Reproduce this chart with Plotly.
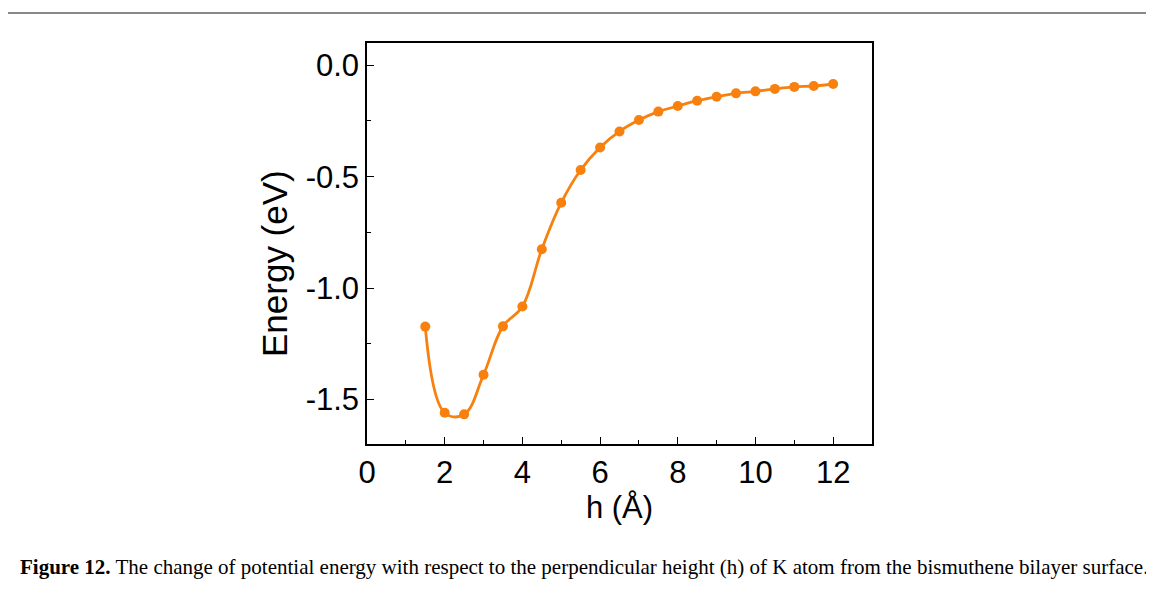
import plotly.graph_objs as go

# Datos
h_vals = [1.5, 2.0, 2.5, 3.0, 3.5, 4.0, 4.5, 5.0, 5.5, 6.0, 6.5, 7.0,
          7.5, 8.0, 8.5, 9.0, 9.5, 10.0, 10.5, 11.0, 11.5, 12.0]
energia = [-1.173, -1.560, -1.567, -1.389, -1.172, -1.083, -0.826, -0.617,
           -0.470, -0.369, -0.297, -0.246, -0.208, -0.183, -0.159, -0.141,
           -0.126, -0.117, -0.106, -0.097, -0.093, -0.084]
x_ticks = [0, 2, 4, 6, 8, 10, 12]
y_ticks = [0.0, -0.5, -1.0, -1.5]
y_tick_text = ['0.0', '-0.5', '-1.0', '-1.5']

naranja = '#F7800F'
caption = ('<b>Figure 12.</b> The change of potential energy with respect to the perpendicular '
           'height (h) of K atom from the bismuthene bilayer surface.')

# la pagina pone 8px de margen al body
OFF = 8
W, H = 1154 - OFF, 592 - OFF
# area del grafico en pixeles (coordenadas de la ventana)
L, R, T, B = 367 - OFF, 872 - OFF, 43 - OFF, 444 - OFF
pw, ph = R - L, B - T


def px(x):
    return (x - OFF - L) / pw


def py(y):
    return (B - (y - OFF)) / ph


fig = go.Figure(go.Scatter(
    x=h_vals,
    y=energia,
    mode='lines+markers',
    line=dict(color=naranja, width=2.8, shape='spline', smoothing=1.1),
    marker=dict(color=naranja, size=10),
    hovertemplate='h: %{x}<br>E: %{y:.3f} eV<extra></extra>',
))

eje = dict(
    showline=True, linewidth=1.5, linecolor='black', mirror=True,
    showgrid=False, zeroline=False,
    ticks='inside', ticklen=7, tickwidth=1.2, tickcolor='black',
    tickfont=dict(family='Liberation Sans, Arial', size=31, color='black'),
)

fig.update_xaxes(
    eje, range=[0, 13], tickvals=x_ticks,
    minor=dict(ticks='inside', ticklen=4, tickwidth=1.2, tickcolor='black', dtick=1, tick0=0),
    title=dict(text='h (Å)', font=dict(family='Liberation Sans, Arial', size=31, color='black'),
               standoff=0),
)
fig.update_yaxes(
    eje, range=[-1.7, 0.1], tickvals=y_ticks, ticktext=y_tick_text,
    minor=dict(ticks='inside', ticklen=4, tickwidth=1.2, tickcolor='black', dtick=0.25, tick0=0),
)

fig.update_layout(
    width=W, height=H,
    margin=dict(l=L, r=W - R, t=T, b=H - B, pad=0),
    plot_bgcolor='#fff',
    paper_bgcolor='#fff',
    showlegend=False,
    shapes=[
        dict(type='line', xref='paper', yref='paper', x0=px(4), x1=px(1160), y0=py(13), y1=py(13),
             line=dict(color='#888888', width=2)),
    ],
    annotations=[
        # titulo del eje y, algo por debajo del centro como en la original
        dict(text='Energy (eV)', xref='paper', yref='paper', x=px(274), y=py(264),
             xanchor='center', yanchor='middle', textangle=-90, showarrow=False,
             font=dict(family='Liberation Sans, Arial', size=35, color='black')),
        dict(text=caption, xref='paper', yref='paper', x=px(18), y=py(567),
             xanchor='left', yanchor='middle', showarrow=False,
             font=dict(family='Liberation Serif, Times New Roman', size=21, color='black')),
    ],
)

fig.write_html('out.html')
